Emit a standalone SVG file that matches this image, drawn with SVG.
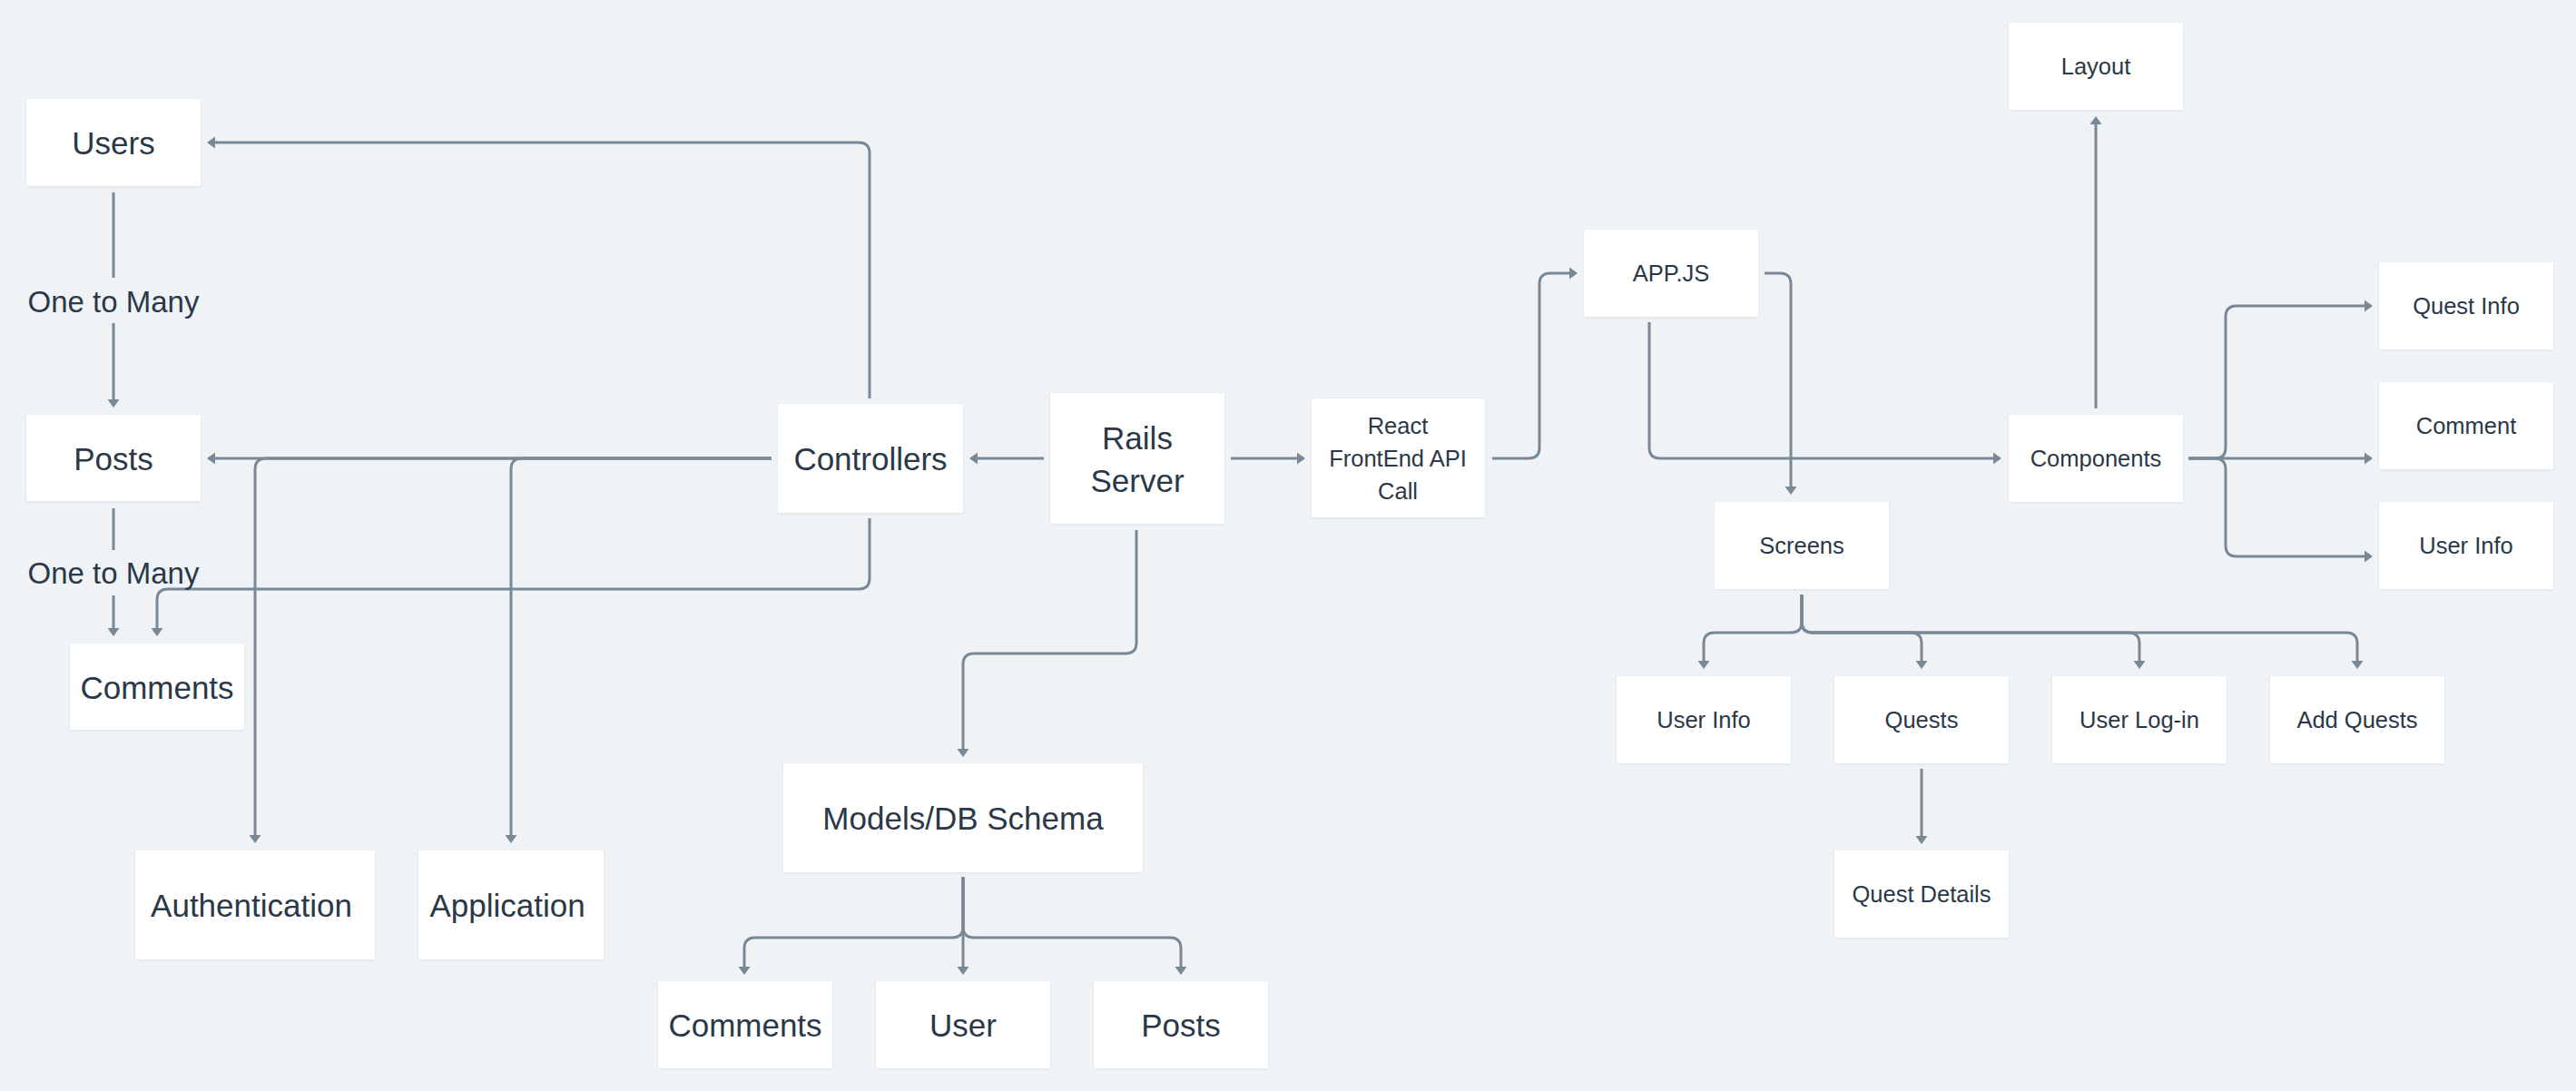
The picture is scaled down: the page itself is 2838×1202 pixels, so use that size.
<svg xmlns="http://www.w3.org/2000/svg" width="2838" height="1202" viewBox="0 0 2838 1202">
<style>
.n rect{fill:#ffffff;filter:url(#sh)}
.n text{font-family:"Liberation Sans",Arial,sans-serif;fill:#2a3847;text-anchor:middle;dominant-baseline:central}
.b text{font-size:35px}
.s text{font-size:25.5px}
.lbl{font-family:"Liberation Sans",Arial,sans-serif;fill:#2a3847;text-anchor:middle;dominant-baseline:central;font-size:33px}
#edges path{fill:none;stroke:#788896;stroke-width:3}
#edges path.a{marker-end:url(#ar)}
</style>
<defs>
<filter id="sh" x="-10%" y="-10%" width="120%" height="130%">
<feDropShadow dx="0" dy="1" stdDeviation="1.5" flood-color="#5a6b7b" flood-opacity="0.12"/>
</filter>
<marker id="ar" markerUnits="userSpaceOnUse" markerWidth="12" markerHeight="14" refX="7" refY="6.5" orient="auto">
<path d="M0,0 L9,6.5 L0,13 z" fill="#788896"/>
</marker>
</defs>
<rect x="0" y="0" width="2838" height="1202" fill="#eff3f6"/>

<g id="edges">
<path class="a" d="M958,439 V169 Q958,157 946,157 H230"/>
<path d="M125,212 V306"/>
<path class="a" d="M125,356 V447"/>
<path d="M125,560 V606"/>
<path class="a" d="M125,656 V699"/>
<path class="a" d="M850,505 H230"/>
<path class="a" d="M850,505 H293 Q281,505 281,517 V927"/>
<path class="a" d="M850,505 H575 Q563,505 563,517 V927"/>
<path class="a" d="M958,571 V637 Q958,649 946,649 H185 Q173,649 173,661 V699"/>
<path class="a" d="M1150,505 H1070"/>
<path class="a" d="M1356,505 H1436"/>
<path class="a" d="M1252,584 V708 Q1252,720 1240,720 H1073 Q1061,720 1061,732 V832"/>
<path class="a" d="M1061,966 V1021 Q1061,1033 1049,1033 H832 Q820,1033 820,1045 V1072"/>
<path class="a" d="M1061,966 V1072"/>
<path class="a" d="M1061,966 V1021 Q1061,1033 1073,1033 H1289 Q1301,1033 1301,1045 V1072"/>
<path class="a" d="M1644,505 H1684 Q1696,505 1696,493 V313 Q1696,301 1708,301 H1736"/>
<path class="a" d="M1944,301 H1961 Q1973,301 1973,313 V543"/>
<path class="a" d="M1817,355 V493 Q1817,505 1829,505 H2203"/>
<path class="a" d="M2309,450 V130"/>
<path class="a" d="M2411,505 H2440 Q2452,505 2452,493 V349 Q2452,337 2464,337 H2612"/>
<path class="a" d="M2411,505 H2612"/>
<path class="a" d="M2411,505 H2440 Q2452,505 2452,517 V601 Q2452,613 2464,613 H2612"/>
<path class="a" d="M1985,655 V685 Q1985,697 1973,697 H1889 Q1877,697 1877,709 V735"/>
<path class="a" d="M1985,655 V685 Q1985,697 1997,697 H2105 Q2117,697 2117,709 V735"/>
<path class="a" d="M1985,655 V685 Q1985,697 1997,697 H2345 Q2357,697 2357,709 V735"/>
<path class="a" d="M1985,655 V685 Q1985,697 1997,697 H2585 Q2597,697 2597,709 V735"/>
<path class="a" d="M2117,847 V928"/>
</g>

<text class="lbl" x="125" y="332">One to Many</text>
<text class="lbl" x="125" y="631">One to Many</text>

<g id="users" class="n b"><rect x="29" y="109" width="192" height="96" rx="2"/><text x="125" y="157">Users</text></g>
<g id="posts" class="n b"><rect x="29" y="457" width="192" height="95" rx="2"/><text x="125" y="505">Posts</text></g>
<g id="comments" class="n b"><rect x="77" y="709" width="192" height="95" rx="2"/><text x="173" y="757">Comments</text></g>
<g id="controllers" class="n b"><rect x="857" y="445" width="204" height="120" rx="2"/><text x="959" y="505">Controllers</text></g>
<g id="rails" class="n b"><rect x="1157" y="433" width="192" height="144" rx="2"/><text x="1253" y="482">Rails</text><text x="1253" y="529">Server</text></g>
<g id="authentication" class="n b"><rect x="149" y="937" width="264" height="120" rx="2"/><text x="277" y="997">Authentication</text></g>
<g id="application" class="n b"><rect x="461" y="937" width="204" height="120" rx="2"/><text x="559" y="997">Application</text></g>
<g id="models" class="n b"><rect x="863" y="841" width="396" height="120" rx="2"/><text x="1061" y="901">Models/DB Schema</text></g>
<g id="db-comments" class="n b"><rect x="725" y="1081" width="192" height="96" rx="2"/><text x="821" y="1129">Comments</text></g>
<g id="db-user" class="n b"><rect x="965" y="1081" width="192" height="96" rx="2"/><text x="1061" y="1129">User</text></g>
<g id="db-posts" class="n b"><rect x="1205" y="1081" width="192" height="96" rx="2"/><text x="1301" y="1129">Posts</text></g>
<g id="react" class="n s"><rect x="1445" y="439" width="191" height="131" rx="2"/><text x="1540" y="469">React</text><text x="1540" y="505">FrontEnd API</text><text x="1540" y="541">Call</text></g>
<g id="appjs" class="n s"><rect x="1745" y="253" width="192" height="96" rx="2"/><text x="1841" y="301">APP.JS</text></g>
<g id="screens" class="n s"><rect x="1889" y="553" width="192" height="96" rx="2"/><text x="1985" y="601">Screens</text></g>
<g id="components" class="n s"><rect x="2213" y="457" width="192" height="96" rx="2"/><text x="2309" y="505">Components</text></g>
<g id="layout" class="n s"><rect x="2213" y="25" width="192" height="96" rx="2"/><text x="2309" y="73">Layout</text></g>
<g id="quest-info" class="n s"><rect x="2621" y="289" width="192" height="96" rx="2"/><text x="2717" y="337">Quest Info</text></g>
<g id="comment" class="n s"><rect x="2621" y="421" width="192" height="96" rx="2"/><text x="2717" y="469">Comment</text></g>
<g id="comp-user-info" class="n s"><rect x="2621" y="553" width="192" height="96" rx="2"/><text x="2717" y="601">User Info</text></g>
<g id="screen-user-info" class="n s"><rect x="1781" y="745" width="192" height="96" rx="2"/><text x="1877" y="793">User Info</text></g>
<g id="quests" class="n s"><rect x="2021" y="745" width="192" height="96" rx="2"/><text x="2117" y="793">Quests</text></g>
<g id="user-login" class="n s"><rect x="2261" y="745" width="192" height="96" rx="2"/><text x="2357" y="793">User Log-in</text></g>
<g id="add-quests" class="n s"><rect x="2501" y="745" width="192" height="96" rx="2"/><text x="2597" y="793">Add Quests</text></g>
<g id="quest-details" class="n s"><rect x="2021" y="937" width="192" height="96" rx="2"/><text x="2117" y="985">Quest Details</text></g>
</svg>
